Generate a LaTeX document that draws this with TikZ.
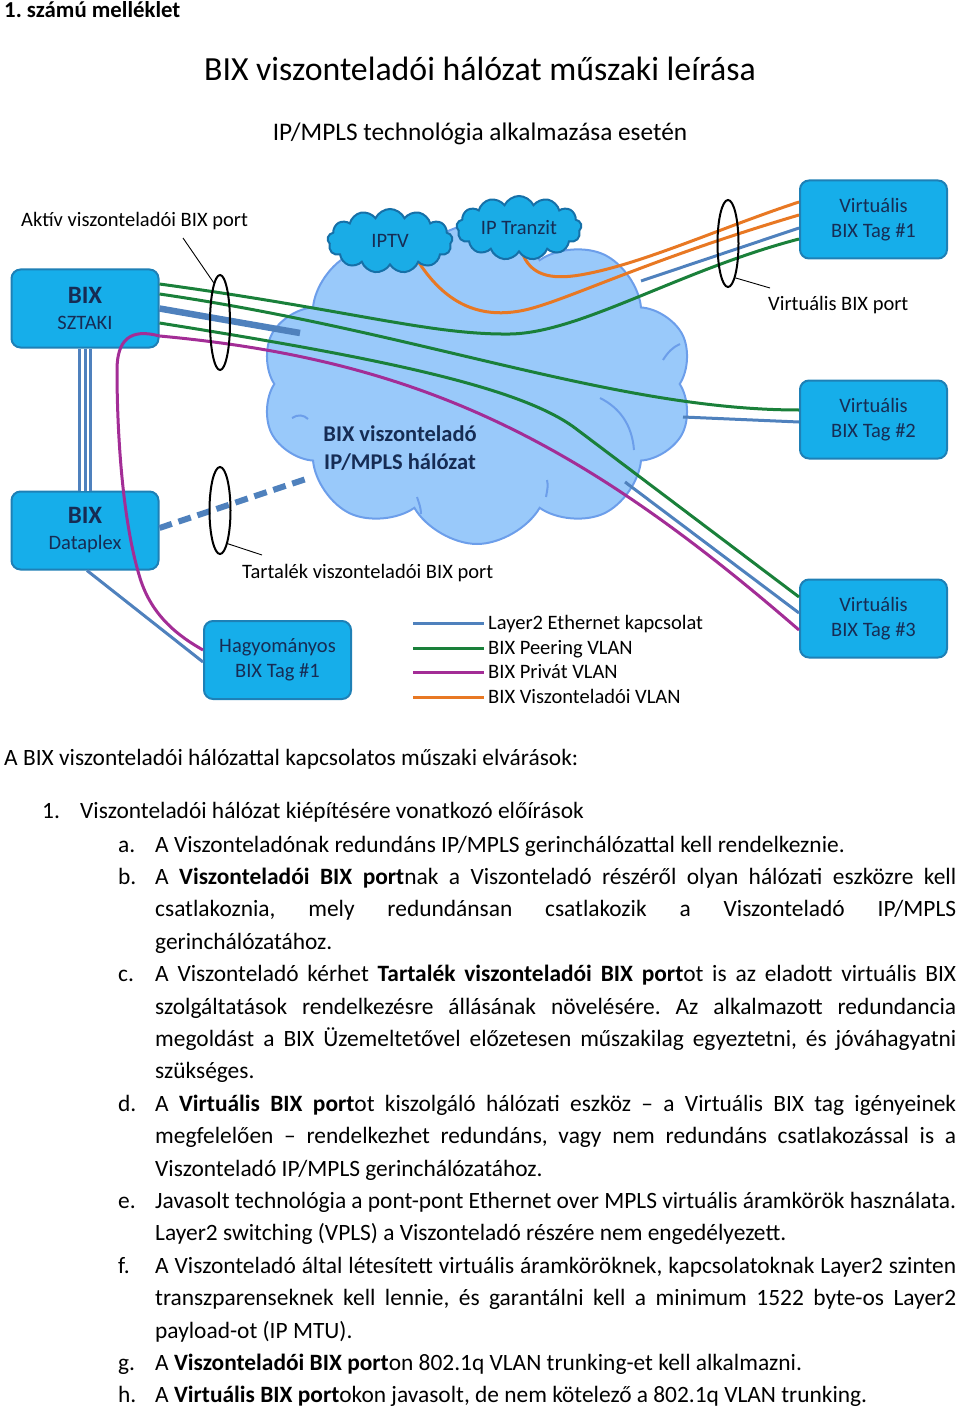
\documentclass[tikz,border=0pt]{standalone}
\usepackage{fontspec}
\setmainfont{Carlito}
\usetikzlibrary{shapes.symbols,shapes.geometric,calc}
\definecolor{boxfill}{RGB}{22,174,234}
\definecolor{boxdraw}{RGB}{30,128,182}
\definecolor{cloudfill}{RGB}{153,201,250}
\definecolor{clouddraw}{RGB}{108,158,234}
\definecolor{scfill}{RGB}{26,172,230}
\definecolor{scdraw}{RGB}{22,112,168}
\definecolor{lblue}{RGB}{79,129,189}
\definecolor{lgreen}{RGB}{26,128,58}
\definecolor{lpurple}{RGB}{163,45,150}
\definecolor{lorange}{RGB}{232,120,35}
\definecolor{navy}{RGB}{22,44,84}
\frenchspacing
\begin{document}
\begin{tikzpicture}[x=1pt,y=-1pt,
  tagbox/.style={rectangle, rounded corners=9pt, fill=boxfill, draw=boxdraw, line width=2pt,
    minimum width=147pt, minimum height=78pt, text=navy, align=center, inner sep=0pt,
    font=\fontsize{20.5}{25}\selectfont},
  bixbox/.style={tagbox, font=\fontsize{20.5}{26}\selectfont},
  maincloud/.style={cloud, cloud puffs=10, cloud puff arc=120, cloud ignores aspect,
    fill=cloudfill, draw=clouddraw, line width=2pt, minimum width=432pt, minimum height=320pt, inner sep=0pt},
  innerarc/.style={draw=clouddraw, line width=2pt},
  smallcloud/.style={cloud, cloud puffs=13, cloud puff arc=130, cloud ignores aspect,
    fill=scfill, draw=scdraw, line width=2pt, minimum width=125pt, minimum height=64pt, inner sep=0pt,
    text=navy, font=\fontsize{20.5}{22}\selectfont},
  thin/.style={line width=3pt},
  l2/.style={thin, lblue},
  peer/.style={thin, lgreen},
  priv/.style={thin, lpurple},
  resel/.style={thin, lorange},
  portell/.style={ellipse, draw=black, line width=2pt, minimum width=21pt, minimum height=88pt, inner sep=0pt},
  leader/.style={draw=black, line width=0.9pt},
  lbl/.style={inner sep=0pt, anchor=base west, font=\fontsize{20.5}{22}\selectfont},
  body/.style={inner sep=0pt, anchor=base west, font=\fontsize{23.4}{26}\selectfont},
]
\useasboundingbox (0,0) rectangle (960,1412);

% ---------- header ----------
\node[inner sep=0pt, anchor=base west, font=\fontsize{22.8}{24}\selectfont\bfseries] (annex) at (4,18) {1. számú melléklet};
\node[inner sep=0pt, anchor=base, font=\fontsize{33.8}{38}\selectfont] (title) at (480,81) {BIX viszonteladói hálózat műszaki leírása};
\node[inner sep=0pt, anchor=base, font=\fontsize{25.3}{28}\selectfont] (subtitle) at (480,141) {IP/MPLS technológia alkalmazása esetén};

% ---------- main cloud ----------
\node[maincloud] (net) at (477,384) {};
\coordinate (ia1s) at (292,418); \coordinate (ia1e) at (308,419);
\coordinate (ia2s) at (663,360); \coordinate (ia2e) at (680,344);
\coordinate (ia3s) at (600,398); \coordinate (ia3e) at (634,450);
\coordinate (ia4s) at (417,497); \coordinate (ia4e) at (421,514);
\coordinate (ia5s) at (547,480); \coordinate (ia5e) at (546,497);
\draw[innerarc] (ia1s) .. controls (298,414) and (304,415) .. (ia1e);
\draw[innerarc] (ia2s) .. controls (668,352) and (673,347) .. (ia2e);
\draw[innerarc] (ia3s) .. controls (620,408) and (632,425) .. (ia3e);
\draw[innerarc] (ia4s) .. controls (419,503) and (421,508) .. (ia4e);
\draw[innerarc] (ia5s) .. controls (548,486) .. (ia5e);
\node[inner sep=0pt, align=center, text=navy, font=\fontsize{22.5}{28}\selectfont\bfseries] (netlbl) at (400,448) {BIX viszonteladó\\IP/MPLS hálózat};

% ---------- boxes ----------
\node[bixbox] (sztaki) at (85,308.5) {{\fontsize{25}{26}\selectfont\bfseries BIX}\\SZTAKI};
\node[bixbox] (dataplex) at (85,530.5) {{\fontsize{25}{26}\selectfont\bfseries BIX}\\Dataplex};
\node[tagbox] (hagy) at (277.5,660) {Hagyományos\\BIX Tag \#1};
\node[tagbox] (vt1) at (873.5,219.5) {Virtuális\\BIX Tag \#1};
\node[tagbox] (vt2) at (873.5,419.5) {Virtuális\\BIX Tag \#2};
\node[tagbox] (vt3) at (873.5,618.5) {Virtuális\\BIX Tag \#3};

% cloud-edge coordinates
\coordinate (cb0) at (300,333);
\coordinate (cdash) at (306,479);
\coordinate (cb1) at (641,281);
\coordinate (cb2) at (683,417);
\coordinate (cb3) at (625,482);
\coordinate (iptvout) at (416,258);
\coordinate (tranout) at (522,252);

% ---------- lines through the cloud ----------
\draw[l2, line width=6.5pt] (sztaki.east) -- (cb0);
\draw[l2, line width=6pt, dash pattern=on 13pt off 7pt] ([yshift=2.5pt]dataplex.east) -- (cdash);
\draw[peer] ([yshift=24.5pt]sztaki.east) .. controls (350,310) and (430,335) .. (510,334)
   .. controls (580,333) and (680,270) .. ([yshift=-19.5pt]vt1.west);
\draw[peer] ([yshift=14.5pt]sztaki.east) .. controls (420,332) and (615,410) .. ([yshift=9.5pt]vt2.west);
\draw[peer] ([yshift=-14.5pt]sztaki.east) .. controls (380,358) and (520,387) .. (575,428) -- ([yshift=21.5pt]vt3.west);
\draw[l2] (cb1) -- ([yshift=-8.5pt]vt1.west);
\draw[l2] (cb2) -- ([yshift=-2.5pt]vt2.west);
\draw[l2] (cb3) -- ([yshift=5.5pt]vt3.west);
\draw[resel] (iptvout) .. controls (445,305) and (480,318) .. (520,311)
   .. controls (560,304) and (640,262) .. ([yshift=4.5pt]vt1.west);
\draw[resel] (tranout) .. controls (530,275) and (550,280) .. (580,275)
   .. controls (640,265) and (720,228) .. ([yshift=17.5pt]vt1.west);

% ---------- small clouds ----------
\node[smallcloud] (iptv) at (390,241) {IPTV};
\node[smallcloud] (tranzit) at (519,228) {IP Tranzit};

% ---------- links between BIX sites and classic member ----------
\draw[lblue, line width=14pt] (sztaki.south) -- (dataplex.north);
\draw[white, line width=8pt] (sztaki.south) -- (dataplex.north);
\draw[lblue, line width=3pt] (sztaki.south) -- (dataplex.north);
\draw[l2] ([xshift=2pt]dataplex.south) -- ([yshift=-2pt]hagy.west);

% purple (private VLAN)
\draw[priv] ([yshift=-27.5pt]sztaki.east) .. controls (420,360) and (580,440) .. ([yshift=-11.5pt]vt3.west);
\draw[priv] ([yshift=-27.5pt]sztaki.east) .. controls (130,328) and (117,340) .. (117,370)
   .. controls (117,430) and (122,520) .. (140,578)
   .. controls (152,617) and (180,637) .. ([yshift=10pt]hagy.west);

% ---------- port ellipses and labels ----------
\node[portell, minimum height=95pt, minimum width=20pt] (ellA) at (220,322.5) {};
\node[portell, minimum height=87pt] (ellV) at (728,243.5) {};
\node[portell, minimum height=87pt] (ellT) at (220,510.5) {};

\node[lbl] (lblA) at (21,227) {Aktív viszonteladói BIX port};
\node[lbl] (lblV) at (768,310) {Virtuális BIX port};
\node[lbl] (lblT) at (242,578) {Tartalék viszonteladói BIX port};
\coordinate (ldA) at (183,238);
\coordinate (ldV) at (770,288);
\coordinate (ldT) at (262,555);
\draw[leader] (ldA) -- (ellA.99);
\draw[leader] (ldV) -- (ellV.-78);
\draw[leader] (ldT) -- (ellT.-77);

% ---------- legend ----------
\coordinate (lg1s) at (413,623); \coordinate (lg1e) at (484,623);
\coordinate (lg2s) at (413,648); \coordinate (lg2e) at (484,648);
\coordinate (lg3s) at (413,672); \coordinate (lg3e) at (484,672);
\coordinate (lg4s) at (413,697); \coordinate (lg4e) at (484,697);
\draw[l2] (lg1s) -- (lg1e);
\draw[peer] (lg2s) -- (lg2e);
\draw[priv] (lg3s) -- (lg3e);
\draw[resel] (lg4s) -- (lg4e);
\node[lbl] (lg1) at (488,629) {Layer2 Ethernet kapcsolat};
\node[lbl] (lg2) at (488,654) {BIX Peering VLAN};
\node[lbl] (lg3) at (488,678) {BIX Privát VLAN};
\node[lbl] (lg4) at (488,703) {BIX Viszonteladói VLAN};

% ---------- body text ----------
\newcommand{\jl}[3]{\node[body] (#1) at (155,#2) {\makebox[801pt][s]{#3}};}
\newcommand{\pl}[3]{\node[body] (#1) at (155,#2) {#3};}
\newcommand{\mk}[3]{\node[body] (#1) at (118,#2) {#3};}

\node[body] (intro) at (4,765) {A BIX viszonteladói hálózattal kapcsolatos műszaki elvárások:};
\node[body] (n1) at (42,818) {1.};
\node[body] (t1) at (80,818) {Viszonteladói hálózat kiépítésére vonatkozó előírások};

\mk{ma}{852}{a.}
\pl{ta}{852}{A Viszonteladónak redundáns IP/MPLS gerinchálózattal kell rendelkeznie.}
\mk{mb}{884.4}{b.}
\jl{tb1}{884.4}{A \textbf{Viszonteladói BIX port}nak a Viszonteladó részéről olyan hálózati eszközre kell}
\jl{tb2}{916.8}{csatlakoznia, mely redundánsan csatlakozik a Viszonteladó IP/MPLS}
\pl{tb3}{949.2}{gerinchálózatához.}
\mk{mc}{981.6}{c.}
\jl{tc1}{981.6}{A Viszonteladó kérhet \textbf{Tartalék viszonteladói BIX port}ot is az eladott virtuális BIX}
\jl{tc2}{1014}{szolgáltatások rendelkezésre állásának növelésére. Az alkalmazott redundancia}
\jl{tc3}{1046.4}{megoldást a BIX Üzemeltetővel előzetesen műszakilag egyeztetni, és jóváhagyatni}
\pl{tc4}{1078.8}{szükséges.}
\mk{md}{1111.2}{d.}
\jl{td1}{1111.2}{A \textbf{Virtuális BIX port}ot kiszolgáló hálózati eszköz – a Virtuális BIX tag igényeinek}
\jl{td2}{1143.6}{megfelelően – rendelkezhet redundáns, vagy nem redundáns csatlakozással is a}
\pl{td3}{1176}{Viszonteladó IP/MPLS gerinchálózatához.}
\mk{me}{1208.4}{e.}
\jl{te1}{1208.4}{Javasolt technológia a pont-pont Ethernet over MPLS virtuális áramkörök használata.}
\pl{te2}{1240.8}{Layer2 switching (VPLS) a Viszonteladó részére nem engedélyezett.}
\mk{mf}{1273.2}{f.}
\jl{tf1}{1273.2}{A Viszonteladó által létesített virtuális áramköröknek, kapcsolatoknak Layer2 szinten}
\jl{tf2}{1305.6}{transzparenseknek kell lennie, és garantálni kell a minimum 1522 byte-os Layer2}
\pl{tf3}{1338}{payload-ot (IP MTU).}
\mk{mg}{1370.4}{g.}
\pl{tg}{1370.4}{A \textbf{Viszonteladói BIX port}on 802.1q VLAN trunking-et kell alkalmazni.}
\mk{mh}{1402.8}{h.}
\pl{th}{1402.8}{A \textbf{Virtuális BIX port}okon javasolt, de nem kötelező a 802.1q VLAN trunking.}
\end{tikzpicture}
\end{document}
